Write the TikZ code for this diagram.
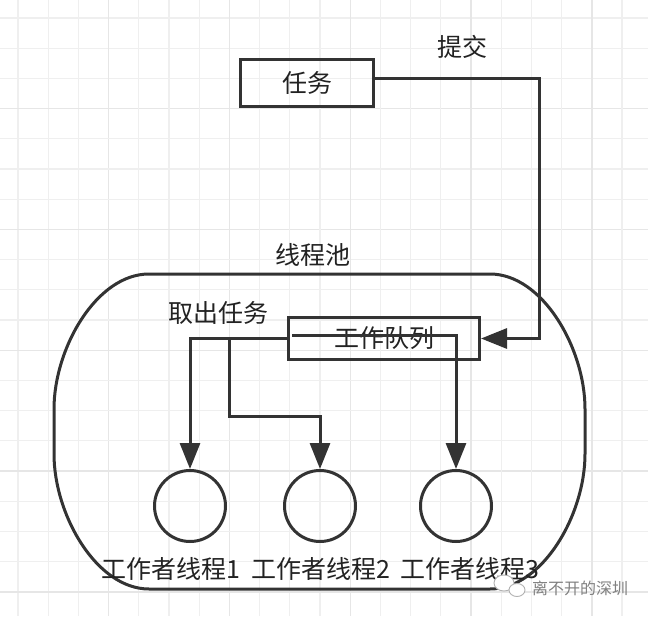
\documentclass[tikz,border=0pt]{standalone}
\usepackage{fontspec}
\setmainfont{Noto Sans CJK SC}
\usetikzlibrary{arrows.meta,calc}
\definecolor{ln}{HTML}{333333}
\definecolor{txt}{HTML}{222222}
\definecolor{gridminor}{HTML}{EFEFEF}
\definecolor{gridmajor}{HTML}{E6E6E6}
\begin{document}
\begin{tikzpicture}[x=1pt,y=-1pt,
  box/.style={draw=ln, line width=3pt, inner sep=0pt, text=txt, font=\fontsize{25}{30}\selectfont},
  wk/.style={circle, draw=ln, line width=3pt, minimum size=71pt, inner sep=0pt},
  lbl/.style={inner sep=0pt, text=txt, font=\fontsize{25}{30}\selectfont},
  arr/.style={draw=ln, line width=3pt, -{Triangle[length=26pt,width=20pt]}},
  poolline/.style={draw=ln, line width=3pt}]
\useasboundingbox (0,0) rectangle (648,616);
\fill[white] (0,0) rectangle (648,616);
% background grid
\begin{scope}
\clip (0,0) rectangle (648,616);
\foreach \i in {0,...,21} {
  \pgfmathtruncatemacro{\m}{mod(\i,4)}
  \ifnum\m=3
    \draw[gridmajor, line width=1.4pt] ({18+30.2*\i},0) -- ({18+30.2*\i},616);
    \draw[gridmajor, line width=1.4pt] (0,{18+30.2*\i}) -- (648,{18+30.2*\i});
  \else
    \draw[gridminor, line width=1.2pt] ({18+30.2*\i},0) -- ({18+30.2*\i},616);
    \draw[gridminor, line width=1.2pt] (0,{18+30.2*\i}) -- (648,{18+30.2*\i});
  \fi
}
\end{scope}
% thread pool outline (rounded rectangle with elliptical corners)
\draw[poolline]
  (149,274) -- (490,274)
  .. controls (542.5,274) and (585,348.3) .. (585,409)
  -- (585,454)
  .. controls (585,514.7) and (542.5,589) .. (490,589)
  -- (149,589)
  .. controls (96.5,589) and (54,514.7) .. (54,454)
  -- (54,409)
  .. controls (54,348.3) and (96.5,274) .. cycle;
\node[lbl] (poolname) at (313,255) {线程池};
% nodes
\node[box, minimum width=133pt, minimum height=47pt] (task) at (307,83) {任务};
\node[lbl] (submit) at (462,47) {提交};
\node[box, minimum width=191pt, minimum height=42pt] (queue) at (384,338.5) {工作队列};
\node[lbl] (take) at (218,313) {取出任务};
\node[wk] (w1) at (190,506) {};
\node[wk] (w2) at (320,506) {};
\node[wk] (w3) at (456,506) {};
\node[lbl] (l1) at (171,569) {工作者线程1};
\node[lbl] (l2) at (321,569) {工作者线程2};
\node[lbl] (l3) at (470,569) {工作者线程3};
% connectors
\coordinate (turn) at (539,78);
\draw[arr] (task.east |- turn) -- (turn) |- (queue.east);
\draw[arr] (queue.west) -| (w1.north);
\coordinate (split) at (229,338.5);
\coordinate (bend) at (229,416);
\draw[arr] (split) -- (bend) -| (w2.north);
\coordinate (inner) at (292,335);
\draw[arr] (inner) -| (w3.north);
% watermark
\draw[black!30, line width=0.9pt, fill=white] (504,583) ellipse (10 and 8);
\draw[black!30, line width=0.9pt, fill=white] (517,590) ellipse (8 and 6.5);
\node[inner sep=0pt, text=black!50, font=\fontsize{16}{18}\selectfont] (wm) at (580,588) {离不开的深圳};
\end{tikzpicture}
\end{document}
